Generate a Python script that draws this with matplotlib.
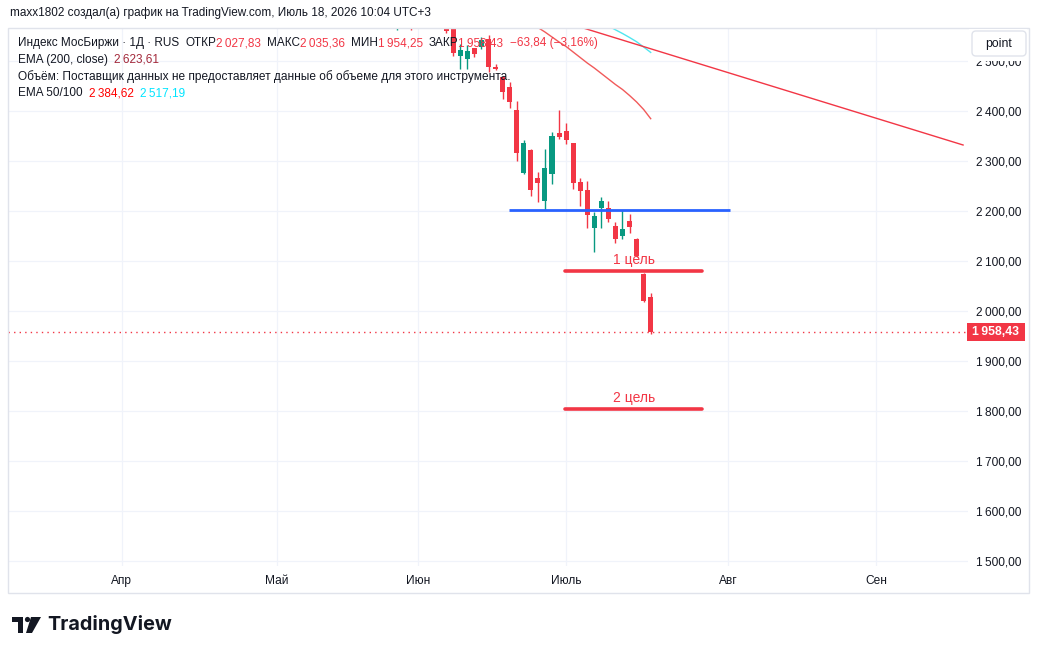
import numpy as np
import matplotlib.pyplot as plt
from matplotlib.patches import Rectangle, FancyBboxPatch, Circle, Polygon
from matplotlib.transforms import IdentityTransform
from matplotlib.ticker import FuncFormatter

plt.rcParams['font.family'] = ['Liberation Sans', 'DejaVu Sans']

W, H = 1040, 654

# daily candles, bar index 0 = 1 July 2026 (trading days)
idx = [-24, -22, -17, -16, -15, -14, -13, -12, -11, -10, -9, -8, -7, -6, -5, -4, -3, -2, -1,
       0, 1, 2, 3, 4, 5, 6, 7, 8, 9, 10, 11, 12]
opens = [2590, 2600, 2600, 2575, 2509.4, 2504.6, 2526, 2528, 2545, 2488, 2468, 2448.6, 2402, 2276.6,
         2322, 2266.6, 2220.6, 2274, 2356.6, 2360.6, 2335.4, 2258.6, 2242, 2166.6, 2206.6, 2206.6,
         2170, 2150.6, 2180, 2144, 2073.4, 2027.83]
closes = [2610, 2580, 2560, 2516, 2521.4, 2519.4, 2513.4, 2541.4, 2488.6, 2483.4, 2438.6, 2418.6, 2316.6,
          2336.6, 2242, 2255.4, 2286.6, 2350.6, 2347.4, 2342, 2255.4, 2240.6, 2192, 2190, 2220.6, 2184,
          2144, 2164, 2168.6, 2110, 2020.6, 1958.43]
highs = [2620, 2610, 2610, 2580, 2534.6, 2531.4, 2527, 2548, 2552, 2494.6, 2471, 2458.6, 2420, 2342,
         2324, 2278.6, 2324, 2358.6, 2402, 2375.4, 2336.6, 2265.4, 2260, 2198.6, 2228.6, 2220.6,
         2178.6, 2202, 2194, 2146.6, 2076.6, 2035.36]
lows = [2562, 2562, 2557, 2511, 2484.6, 2484.6, 2508, 2524.6, 2479, 2481.4, 2423.4, 2405.4, 2300.6, 2274,
        2230, 2218.6, 2202, 2254, 2343.4, 2334, 2244, 2210.6, 2165.4, 2118.6, 2166.6, 2178.6,
        2136.6, 2144, 2156.6, 2107.4, 2018.6, 1954.25]

ema50_x = [-5, -4, -3, -2, -1, 0, 1, 2, 3, 4, 5, 6, 7, 8, 9, 10, 11, 12]
ema50 = [2577, 2567, 2558, 2548, 2538, 2529, 2518, 2507, 2496, 2486, 2475, 2464, 2453, 2443, 2431,
         2418, 2403, 2384.62]
ema100_x = [5, 6, 7, 8, 9, 10, 11, 12]
ema100 = [2578, 2570, 2562.4, 2555, 2547, 2538.5, 2528, 2517.19]

trend_x = [-10, 56.3]
trend_y = [2620, 2332]

support = (2202, -8.1, 23.3)
targets = [('1 цель', 2080, -0.1, 19.3), ('2 цель', 1804, -0.1, 19.3)]
last_close = 1958.43

month_pos = [-63, -41, -21, 0, 23, 44]
month_lab = ['Апр', 'Май', 'Июн', 'Июль', 'Авг', 'Сен']
price_ticks = list(range(1500, 2600, 100))

UP, DOWN = '#089981', '#f23645'
TXT = '#131722'
GRID = '#f0f3fa'

fig = plt.figure(figsize=(W / 100, H / 100), dpi=100)
ax = fig.add_axes([8 / W, 1 - 566 / H, 960 / W, 538 / H])
ax.set_xlim(-79.15, 57.0)
ax.set_ylim(1490, 2566)

for s in ax.spines.values():
    s.set_visible(False)
ax.set_xticks(month_pos)
ax.set_xticklabels(month_lab)
ax.set_yticks(price_ticks)
ax.yaxis.tick_right()
ax.yaxis.set_major_formatter(FuncFormatter(lambda v, p: f'{int(v) // 1000}\u2009{int(v) % 1000:03d},00'))
ax.tick_params(axis='both', length=0, colors=TXT, labelsize=8.6)
ax.tick_params(axis='y', pad=6)
ax.tick_params(axis='x', pad=6.5)
ax.grid(True, color=GRID, lw=0.9)
ax.set_axisbelow(True)

# candles
for x, o, c, h, l in zip(idx, opens, closes, highs, lows):
    col = UP if c >= o else DOWN
    ax.vlines(x, l, h, color=col, lw=1.0, zorder=3)
    ax.bar(x, abs(c - o), bottom=min(o, c), width=0.72, color=col, zorder=4, linewidth=0)

ax.plot(ema50_x, ema50, color='#f15a5a', lw=1.0, zorder=5)
ax.plot(ema100_x, ema100, color='#4fe6ef', lw=1.0, zorder=5)
ax.plot(trend_x, trend_y, color='#f23645', lw=1.0, zorder=5)

ax.hlines(support[0], support[1], support[2], color='#2962ff', lw=2.0, zorder=6)
for name, lvl, x0, x1 in targets:
    ax.hlines(lvl, x0, x1, color='#f23645', lw=2.6, zorder=6, capstyle='round')
    ax.text((x0 + x1) / 2, lvl + 22, name, color='#f23645', fontsize=10, ha='center', va='center',
            zorder=7)

ax.axhline(last_close, color='#f23645', lw=1.0, ls=(0, (1, 3)), zorder=2)

# panel border
pix = IdentityTransform()
fig.patches.append(Rectangle((8, H - 593), 1021, 565, transform=pix, fill=False,
                             edgecolor='#e0e3eb', lw=1.0))

# price label
fig.patches.append(Rectangle((967, H - 341), 58, 18, transform=pix, facecolor='#f23645',
                             edgecolor='none', zorder=10))
fig.text(996 / W, 1 - 332 / H, '1\u2009958,43', color='white', fontsize=8.8, fontweight='bold',
         ha='center', va='center', zorder=11)

# "point" button (with white margin covering most of the top price label)
fig.patches.append(Rectangle((969, H - 61), 58, 32, transform=pix, facecolor='white',
                             edgecolor='none', zorder=9))
fig.patches.append(FancyBboxPatch((972, H - 56), 54, 25, boxstyle='round,pad=0,rounding_size=4',
                                  transform=pix, facecolor='white', edgecolor='#e0e3eb', lw=1.0,
                                  zorder=10))
fig.text(999 / W, 1 - 44 / H, 'point', color=TXT, fontsize=8.8, ha='center', va='center', zorder=11)

fig.text(10 / W, 1 - 13 / H, 'maxx1802 создал(а) график на TradingView.com, Июль 18, 2026 10:04 UTC+3',
         color=TXT, fontsize=8.5, va='center')

renderer = fig.canvas.get_renderer()


def rich_line(x_px, y_px, parts, size=8.5):
    x = x_px
    for s, col, gap in parts:
        t = fig.text(x / W, 1 - y_px / H, s, color=col, fontsize=size, va='center', ha='left', zorder=12)
        x += t.get_window_extent(renderer).width + gap


rich_line(18, 43, [('Индекс МосБиржи · 1Д · RUS', TXT, 6), ('ОТКР', TXT, 0), ('2\u2009027,83', DOWN, 6),
                   ('МАКС', TXT, 0), ('2\u2009035,36', DOWN, 6), ('МИН', TXT, 0), ('1\u2009954,25', DOWN, 6),
                   ('ЗАКР', TXT, 0), ('1\u2009958,43', DOWN, 6), ('−63,84 (−3,16%)', DOWN, 0)])
rich_line(18, 60, [('EMA (200, close)', TXT, 6), ('2\u2009623,61', '#a3283a', 0)])
rich_line(18, 77, [('Объём: Поставщик данных не предоставляет данные об объеме для этого инструмента.', TXT, 0)],
          size=8.6)
rich_line(18, 93, [('EMA 50/100', TXT, 6), ('2\u2009384,62', '#ff0000', 6), ('2\u2009517,19', '#00e5ff', 0)])

# TradingView logo
fig.patches.append(Rectangle((12, H - 622), 11, 5, transform=pix, facecolor=TXT, edgecolor='none'))
fig.patches.append(Rectangle((18, H - 633), 5, 16, transform=pix, facecolor=TXT, edgecolor='none'))
fig.patches.append(Circle((27.5, H - 619.5), 2.6, transform=pix, facecolor=TXT, edgecolor='none'))
fig.patches.append(Polygon([(31, H - 617), (41, H - 617), (32, H - 633), (26, H - 633)], closed=True,
                           transform=pix, facecolor=TXT, edgecolor='none'))
fig.text(47 / W, 1 - 624 / H, 'TradingView', color=TXT, fontsize=14.3, fontweight='bold', va='center',
         family=['Inter', 'DejaVu Sans'])

fig.savefig('out.png', dpi=100)
